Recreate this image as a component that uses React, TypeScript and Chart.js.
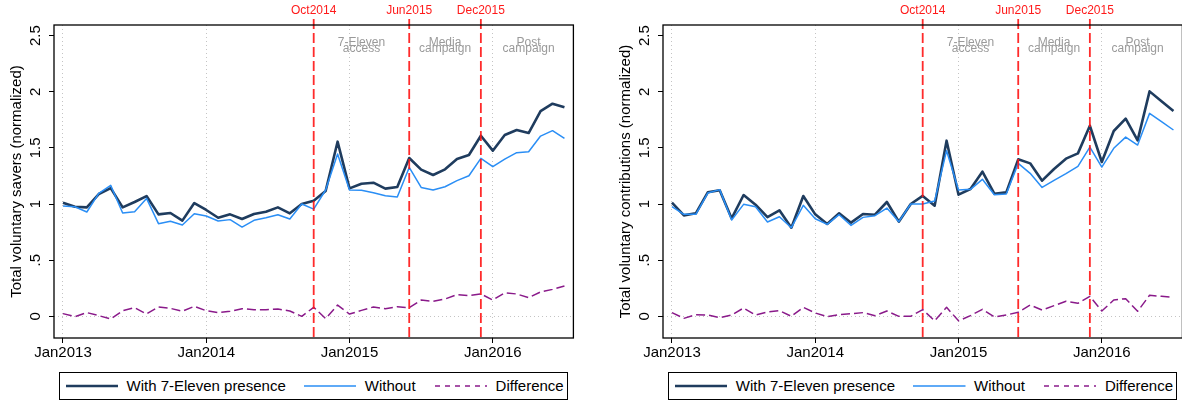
import { useEffect, useRef } from 'react';
import { Chart, registerables } from 'chart.js';

Chart.register(...registerables);

// Months are indexed from Jan2013 (0) to Jul2016 (42)
const xTickMonths = [0, 12, 24, 36];
const xTickLabels = ['Jan2013', 'Jan2014', 'Jan2015', 'Jan2016'];

const yTickValues = [0, 0.5, 1, 1.5, 2, 2.5];
const yTickLabels = ['0', '.5', '1', '1.5', '2', '2.5'];

const eventMonths = [21, 29, 35];
const eventLabels = ['Oct2014', 'Jun2015', 'Dec2015'];

const phaseMonths = [25, 32, 39];
const phaseLabels = [
	['7-Eleven', 'access'],
	['Media', 'campaign'],
	['Post', 'campaign'],
];

const seriesLabels = ['With 7-Eleven presence', 'Without', 'Difference'];

// Total voluntary savers
const saversWith = [
	1.012, 0.976, 0.97, 1.089, 1.142, 0.97, 1.018, 1.071, 0.908, 0.92, 0.852, 1.009, 0.947, 0.878, 0.908,
	0.866, 0.911, 0.932, 0.97, 0.917, 1.0, 1.03, 1.116, 1.555, 1.139, 1.181, 1.19, 1.137, 1.151, 1.41, 1.306,
	1.258, 1.309, 1.4, 1.436, 1.608, 1.475, 1.614, 1.659, 1.632, 1.828, 1.893, 1.861,
];
const saversWithout = [
	0.982, 0.976, 0.929, 1.095, 1.166, 0.92, 0.932, 1.05, 0.825, 0.846, 0.813, 0.914, 0.893, 0.849, 0.861,
	0.795, 0.855, 0.878, 0.905, 0.866, 1.0, 0.955, 1.125, 1.445, 1.125, 1.122, 1.1, 1.074, 1.062, 1.326,
	1.148, 1.125, 1.154, 1.208, 1.252, 1.407, 1.332, 1.4, 1.457, 1.466, 1.605, 1.653, 1.585,
];
const saversDiff = [
	0.024, -0.003, 0.033, 0.006, -0.024, 0.05, 0.077, 0.021, 0.083, 0.071, 0.045, 0.089, 0.05, 0.033, 0.045,
	0.068, 0.059, 0.059, 0.065, 0.047, 0.0, 0.08, -0.02, 0.1, 0.02, 0.053, 0.083, 0.068, 0.086, 0.077, 0.145,
	0.134, 0.154, 0.193, 0.184, 0.199, 0.145, 0.21, 0.199, 0.166, 0.217, 0.24, 0.27,
];

// Total voluntary contributions
const contribWith = [
	1.012, 0.899, 0.917, 1.104, 1.122, 0.872, 1.08, 0.994, 0.884, 0.944, 0.789, 1.071, 0.908, 0.822, 0.917,
	0.834, 0.911, 0.905, 1.018, 0.843, 1.0, 1.072, 0.985, 1.564, 1.083, 1.134, 1.288, 1.092, 1.104, 1.398,
	1.362, 1.208, 1.312, 1.404, 1.451, 1.697, 1.374, 1.65, 1.76, 1.567, 2.003, 1.914, 1.828,
];
const contribWithout = [
	0.976, 0.908, 0.908, 1.098, 1.128, 0.858, 0.997, 0.976, 0.84, 0.887, 0.789, 0.988, 0.869, 0.819, 0.905,
	0.81, 0.881, 0.896, 0.964, 0.843, 1.0, 1.0, 1.027, 1.475, 1.125, 1.131, 1.22, 1.083, 1.089, 1.362, 1.273,
	1.148, 1.211, 1.27, 1.335, 1.507, 1.329, 1.496, 1.596, 1.525, 1.807, 1.733, 1.659,
];
const contribDiff = [
	0.033, -0.018, 0.015, 0.012, -0.012, 0.012, 0.074, 0.012, 0.039, 0.05, 0.0, 0.08, 0.03, -0.003, 0.015,
	0.024, 0.033, 0.006, 0.047, 0.0, 0.0, 0.06, -0.04, 0.08, -0.04, 0.006, 0.062, -0.006, 0.012, 0.036, 0.1,
	0.056, 0.095, 0.134, 0.116, 0.178, 0.047, 0.145, 0.157, 0.045, 0.187, 0.178, 0.169,
];

const FONT = '"Liberation Sans", Arial, Helvetica, sans-serif';
const NAVY = '#1f3c5e';
const BLUE = '#2a8ef5';
const PURPLE = '#8a1a8a';

const seriesStyles = [
	{ color: NAVY, width: 2.6, dash: [] as number[], legendDash: '' },
	{ color: BLUE, width: 1.5, dash: [] as number[], legendDash: '' },
	{ color: PURPLE, width: 1.5, dash: [9, 4], legendDash: '5 5' },
];

const CANVAS_W = 591;
const CANVAS_H = 366;
const AXIS_W = 54;
const PLOT_W = 519.4;

interface PanelProps {
	left: number;
	yTitle: string;
	series: number[][];
}

const decorPlugin = {
	id: 'stataDecor',
	afterDatasetsDraw(chart: Chart) {
		const { ctx, chartArea } = chart;
		const xs = chart.scales.x;
		const ys = chart.scales.y;
		ctx.save();
		// event lines
		eventMonths.forEach((m, i) => {
			const px = xs.getPixelForValue(m);
			ctx.strokeStyle = 'rgba(255, 20, 20, 0.9)';
			ctx.lineWidth = 1.8;
			ctx.setLineDash([10, 4]);
			ctx.beginPath();
			ctx.moveTo(px, chartArea.top - 6);
			ctx.lineTo(px, chartArea.bottom);
			ctx.stroke();
			ctx.setLineDash([]);
			ctx.fillStyle = '#ff1a1a';
			ctx.font = `12px ${FONT}`;
			ctx.textAlign = 'center';
			ctx.textBaseline = 'middle';
			ctx.fillText(eventLabels[i], px, 10.5);
		});
		// phase labels
		ctx.fillStyle = '#9a9a9a';
		ctx.font = `12px ${FONT}`;
		ctx.textAlign = 'center';
		ctx.textBaseline = 'middle';
		phaseMonths.forEach((m, i) => {
			const px = xs.getPixelForValue(m);
			ctx.fillText(phaseLabels[i][0], px, ys.getPixelForValue(2.438));
			ctx.fillText(phaseLabels[i][1], px, ys.getPixelForValue(2.38));
		});
		ctx.restore();
	},
	afterDraw(chart: Chart) {
		const { ctx, chartArea } = chart;
		const ys = chart.scales.y;
		ctx.save();
		ctx.strokeStyle = '#000';
		ctx.lineWidth = 1.3;
		ctx.strokeRect(chartArea.left, chartArea.top, chartArea.right - chartArea.left, chartArea.bottom - chartArea.top);
		// rotated y tick labels
		ctx.fillStyle = '#000';
		ctx.font = `15px ${FONT}`;
		ctx.textAlign = 'center';
		ctx.textBaseline = 'middle';
		yTickValues.forEach((v, i) => {
			const py = ys.getPixelForValue(v);
			ctx.save();
			ctx.translate(chartArea.left - 18.5, py);
			ctx.rotate(-Math.PI / 2);
			ctx.fillText(yTickLabels[i], 0, 0);
			ctx.restore();
		});
		ctx.restore();
	},
};

function Panel({ left, yTitle, series }: PanelProps) {
	const chartRef = useRef<HTMLCanvasElement | null>(null);

	useEffect(() => {
		if (!chartRef.current) return;
		const existing = Chart.getChart(chartRef.current);
		if (existing) existing.destroy();

		const chart = new Chart(chartRef.current, {
			type: 'line',
			data: {
				datasets: series.map((values, k) => ({
					label: seriesLabels[k],
					data: values.map((v, i) => ({ x: i, y: v })),
					borderColor: seriesStyles[k].color,
					borderWidth: seriesStyles[k].width,
					borderDash: seriesStyles[k].dash,
					borderJoinStyle: 'round' as const,
					pointRadius: 0,
					tension: 0,
					fill: false,
					order: 2 - k,
				})),
			},
			options: {
				responsive: false,
				animation: false,
				events: [],
				layout: {
					padding: { left: 0, top: 25, right: CANVAS_W - AXIS_W - PLOT_W, bottom: 0 },
				},
				plugins: {
					legend: { display: false },
					tooltip: { enabled: false },
				},
				scales: {
					x: {
						type: 'linear',
						min: -0.75,
						max: 42.75,
						afterBuildTicks: (scale) => {
							scale.ticks = xTickMonths.map((v) => ({ value: v }));
						},
						afterFit: (scale) => {
							scale.height = 28;
						},
						ticks: {
							autoSkip: false,
							maxRotation: 0,
							minRotation: 0,
							padding: 1,
							color: '#000',
							font: { family: FONT, size: 15 },
							callback: (v) => xTickLabels[xTickMonths.indexOf(Number(v))] ?? '',
						},
						grid: {
							color: '#c4c4c4',
							lineWidth: 1,
							tickLength: 5,
							tickColor: '#000',
							tickWidth: 1,
						},
						border: { display: false, dash: [1, 3] },
					},
					y: {
						type: 'linear',
						min: -0.193,
						max: 2.594,
						afterBuildTicks: (scale) => {
							scale.ticks = yTickValues.map((v) => ({ value: v }));
						},
						afterFit: (scale) => {
							scale.width = AXIS_W;
						},
						ticks: { display: false },
						grid: {
							color: (c) => (c.tick && c.tick.value === 0 ? '#c4c4c4' : 'rgba(0,0,0,0)'),
							lineWidth: 1,
							tickLength: 5,
							tickColor: '#000',
							tickWidth: 1,
						},
						border: { display: false, dash: [1, 3] },
						title: {
							display: true,
							text: yTitle,
							color: '#000',
							font: { family: FONT, size: 15 },
							padding: { top: 7.5, bottom: 0 },
						},
					},
				},
			},
			plugins: [decorPlugin],
		});

		return () => {
			chart.destroy();
		};
	}, [yTitle, series]);

	return (
		<div style={{ position: 'absolute', left, top: 0, width: CANVAS_W, height: 402 }}>
			<canvas ref={chartRef} width={CANVAS_W} height={CANVAS_H} style={{ width: CANVAS_W, height: CANVAS_H, display: 'block' }} />
			<div
				style={{
					position: 'absolute',
					left: 58.5,
					top: 371.5,
					width: 509.5,
					height: 28,
					boxSizing: 'border-box',
					border: '1px solid #000',
					display: 'flex',
					alignItems: 'center',
					paddingLeft: 6,
					fontFamily: FONT,
					fontSize: 15,
					color: '#000',
					whiteSpace: 'nowrap',
				}}
			>
				{seriesLabels.map((label, k) => (
					<div key={label} style={{ display: 'flex', alignItems: 'center', marginLeft: k === 0 ? 0 : k === 1 ? 18 : 19 }}>
						<svg width={52.5} height={10} style={{ display: 'block' }}>
							<line
								x1={0}
								y1={5}
								x2={52.5}
								y2={5}
								stroke={seriesStyles[k].color}
								strokeWidth={seriesStyles[k].width}
								strokeDasharray={seriesStyles[k].legendDash || undefined}
							/>
						</svg>
						<span style={{ marginLeft: 8.5 }}>{label}</span>
					</div>
				))}
			</div>
		</div>
	);
}

const saversSeries = [saversWith, saversWithout, saversDiff];
const contribSeries = [contribWith, contribWithout, contribDiff];

export default function App() {
	return (
		<div
			style={{
				position: 'fixed',
				left: 0,
				top: 0,
				width: 1182,
				height: 402,
				overflow: 'hidden',
				background: '#fff',
			}}
		>
			<Panel left={0} yTitle="Total voluntary savers (normalized)" series={saversSeries} />
			<Panel left={609.3} yTitle="Total voluntary contributions (normalized)" series={contribSeries} />
		</div>
	);
}
